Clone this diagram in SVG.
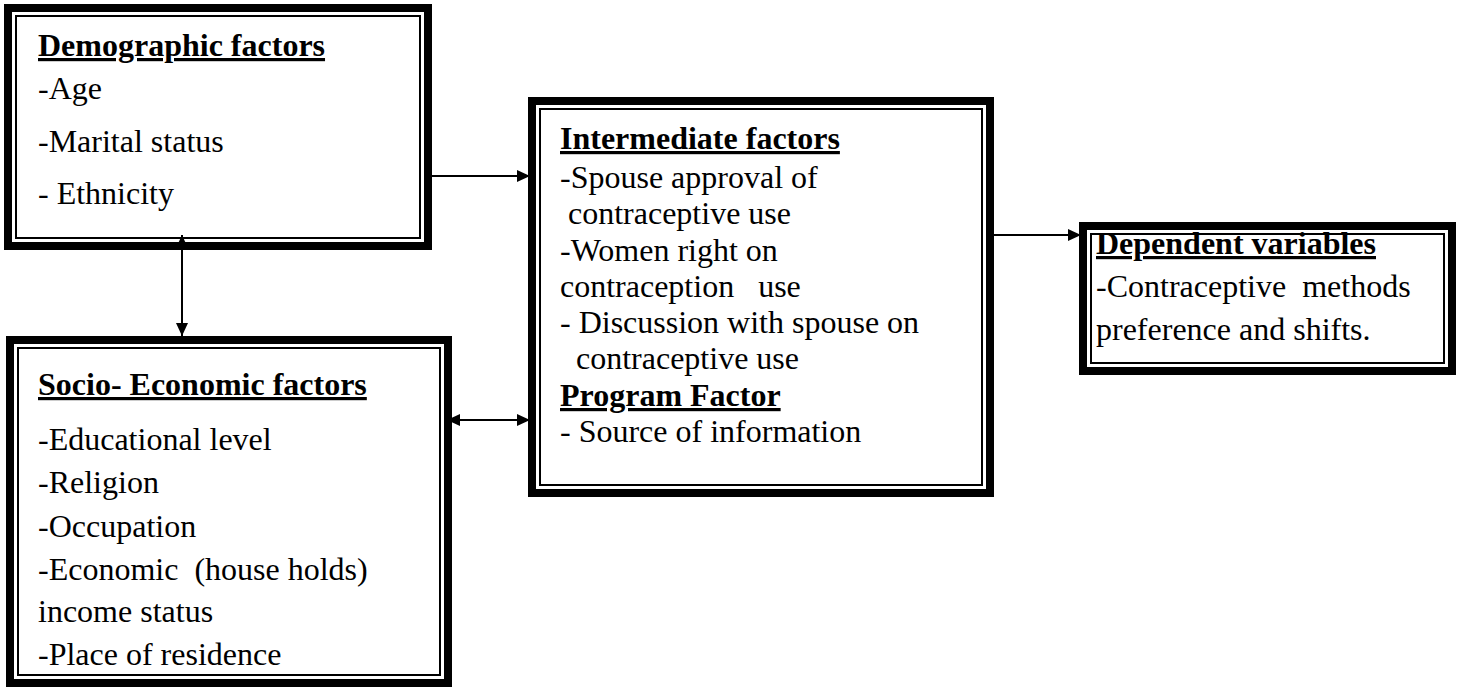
<svg xmlns="http://www.w3.org/2000/svg" width="1458" height="690" viewBox="0 0 1458 690">
<defs>
<marker id="ah" markerUnits="userSpaceOnUse" markerWidth="14" markerHeight="12" refX="13" refY="6" orient="auto-start-reverse">
<path d="M0,0 L13,6 L0,12 Z" fill="#000"/>
</marker>
<style>
.outer{fill:#fff;stroke:#000;stroke-width:8}
.inner{fill:none;stroke:#000;stroke-width:2}
text{font-family:"Liberation Serif","Times New Roman",serif;font-size:32px;fill:#000}
.h{font-weight:bold;text-decoration:underline}
.c{stroke:#000;stroke-width:2;fill:none}
</style>
</defs>
<rect width="1458" height="690" fill="#fff"/>
<g id="demographic">
<rect class="outer" x="8" y="8" width="420" height="238"/>
<rect class="inner" x="16" y="16" width="404" height="222"/>
<text class="h" x="38" y="56">Demographic factors</text>
<text x="38" y="99">-Age</text>
<text x="38" y="152">-Marital status</text>
<text x="38" y="204">- Ethnicity</text>
</g>
<g id="socioeconomic">
<rect class="outer" x="10" y="340" width="438" height="343"/>
<rect class="inner" x="18" y="348" width="422" height="327"/>
<text class="h" x="38" y="395">Socio- Economic factors</text>
<text x="38" y="450">-Educational level</text>
<text x="38" y="493">-Religion</text>
<text x="38" y="537">-Occupation</text>
<text x="38" y="580" xml:space="preserve">-Economic  (house holds)</text>
<text x="38" y="622">income status</text>
<text x="38" y="665">-Place of residence</text>
</g>
<g id="intermediate">
<rect class="outer" x="532" y="101" width="458" height="392"/>
<rect class="inner" x="540" y="109" width="442" height="376"/>
<text class="h" x="560" y="149">Intermediate factors</text>
<text x="560" y="188">-Spouse approval of</text>
<text x="568" y="224">contraceptive use</text>
<text x="560" y="261">-Women right on</text>
<text x="560" y="297" xml:space="preserve">contraception   use</text>
<text x="560" y="333">- Discussion with spouse on</text>
<text x="576" y="369">contraceptive use</text>
<text class="h" x="560" y="406">Program Factor</text>
<text x="560" y="442">- Source of information</text>
</g>
<g id="dependent">
<rect class="outer" x="1083" y="226" width="369" height="145"/>
<rect class="inner" x="1091" y="234" width="353" height="129"/>
<text class="h" x="1096" y="254">Dependent variables</text>
<text x="1096" y="297" xml:space="preserve">-Contraceptive  methods</text>
<text x="1096" y="340">preference and shifts.</text>
</g>
<g id="connectors">
<line class="c" x1="432" y1="176" x2="530" y2="176" marker-end="url(#ah)"/>
<line class="c" x1="994" y1="235" x2="1081" y2="235" marker-end="url(#ah)"/>
<line class="c" x1="182" y1="235" x2="182" y2="336" marker-start="url(#ah)" marker-end="url(#ah)"/>
<line class="c" x1="447" y1="420" x2="530" y2="420" marker-start="url(#ah)" marker-end="url(#ah)"/>
</g>
</svg>
